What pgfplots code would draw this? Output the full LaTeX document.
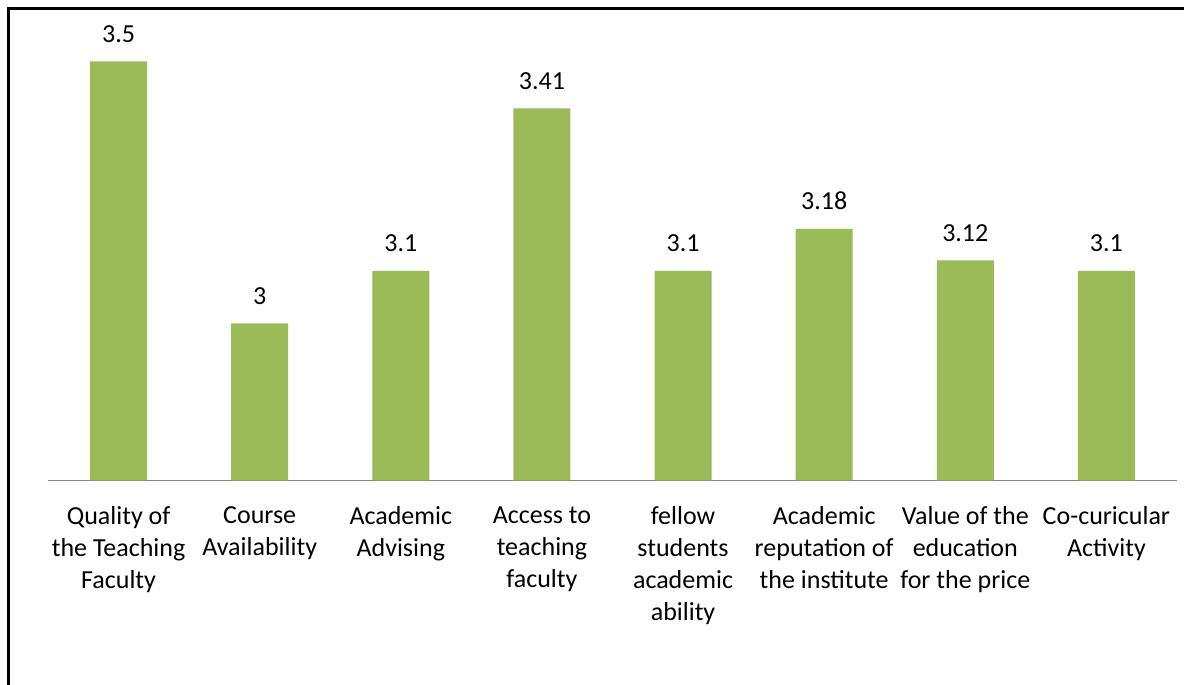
\documentclass[border=0pt]{standalone}
\usepackage{fontspec}
\setmainfont{Carlito}
\usepackage{pgfplots}
\pgfplotsset{compat=1.18}
\definecolor{bargreen}{HTML}{9BBB59}
\definecolor{axisgray}{HTML}{868686}
\begin{document}
\begin{tikzpicture}
% page size: 1184x685 px at 0.5pt per px
\useasboundingbox (0,0) rectangle (592pt,342.5pt);
\draw[line width=1.3pt] (4.25pt,0) -- (4.25pt,338.1pt) -- (592pt,338.1pt);
\begin{axis}[
    at={(24pt,102.25pt)}, anchor=south west,
    scale only axis,
    width=564.5pt, height=235.8pt,
    ybar, bar width=28.5pt,
    xmin=-0.5, xmax=7.5,
    ymin=2.7, ymax=3.6,
    axis x line=bottom, axis y line=none,
    x axis line style={-, draw=axisgray, line width=0.75pt},
    xtick=data,
    xtick style={draw=none},
    ytick=\empty,
    xticklabels={{Quality of\\the Teaching\\Faculty},
                 {Course\\Availability},
                 {Academic\\Advising},
                 {Access to\\teaching\\faculty},
                 {fellow\\students\\academic\\ability},
                 {Academic\\reputation of\\the institute},
                 {Value of the\\education\\for the price},
                 {Co-curicular\\Activity}},
    xticklabel style={align=center, anchor=north, inner sep=0pt, yshift=-10.8pt,
        font=\fontsize{13}{16}\selectfont},
    /pgf/number format/assume math mode=true,
    nodes near coords,
    nodes near coords style={anchor=base, yshift=9.5pt, font=\fontsize{13}{16}\selectfont},
]
\addplot[fill=bargreen, draw=none] coordinates {
    (0,3.5) (1,3) (2,3.1) (3,3.41) (4,3.1) (5,3.18) (6,3.12) (7,3.1)};
\end{axis}
\end{tikzpicture}
\end{document}
